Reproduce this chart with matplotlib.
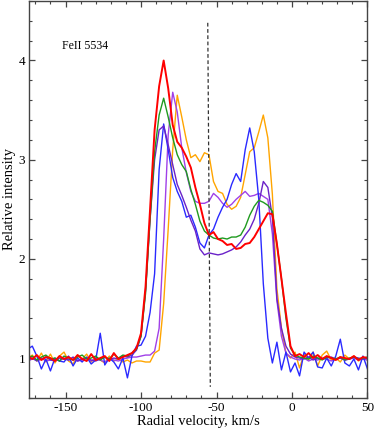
import matplotlib
matplotlib.use("Agg")
import matplotlib.pyplot as plt
from matplotlib.ticker import MultipleLocator

plt.rcParams['font.family'] = ['Liberation Serif', 'DejaVu Serif']
plt.rcParams['axes.unicode_minus'] = False

# radial velocity grid, km/s
vel = [-175, -172, -169, -166, -163, -160, -157, -154, -151, -148, -145, -142,
       -139, -136, -133, -130, -127, -124, -121, -118, -115, -112, -109, -106,
       -103, -100, -97, -94, -91, -88, -85, -82, -79, -76, -73, -70, -67, -64,
       -61, -58, -55, -52, -49, -46, -43, -40, -37, -34, -31, -28, -25, -22,
       -19, -16, -13, -10, -7, -4, -1,
       2, 5, 8, 11, 14, 17, 20, 23, 26, 29, 32, 35, 38, 41, 44, 47, 50]

red = [1.02, 0.99, 1.03, 0.98, 1.01, 1.00, 0.97, 1.02, 0.99, 1.01, 0.98, 1.03,
       0.99, 0.97, 1.04, 0.98, 1.00, 1.02, 0.97, 1.05, 0.99, 1.01, 1.03, 1.05,
       1.10, 1.25, 1.72, 2.50, 3.30, 3.74, 4.00, 3.72, 3.35, 3.18, 3.12, 3.03,
       2.92, 2.72, 2.55, 2.36, 2.24, 2.27, 2.20, 2.18, 2.14, 2.15, 2.10, 2.11,
       2.15, 2.16, 2.22, 2.30, 2.38, 2.46, 2.45, 2.15, 1.80, 1.45, 1.12,
       1.02, 1.04, 1.01, 1.05, 1.00, 1.03, 0.99, 1.02, 1.00, 0.98, 1.01, 1.00,
       0.99, 1.02, 0.98, 1.01, 1.00]

green = [1.00, 1.02, 0.98, 1.01, 1.03, 0.99, 1.00, 0.97, 1.02, 1.00, 0.98, 1.01,
         1.03, 0.99, 1.00, 1.02, 0.98, 1.01, 0.99, 1.04, 1.00, 1.03, 1.02, 1.05,
         1.09, 1.22, 1.65, 2.40, 3.08, 3.45, 3.62, 3.43, 3.22, 3.05, 2.95, 2.88,
         2.70, 2.55, 2.38, 2.28, 2.24, 2.21, 2.20, 2.21, 2.20, 2.22, 2.22, 2.24,
         2.32, 2.44, 2.53, 2.59, 2.57, 2.54, 2.48, 2.15, 1.80, 1.40, 1.10,
         1.03, 1.01, 1.00, 0.99, 1.02, 1.00, 0.98, 1.01, 1.00, 0.99, 1.01, 0.98,
         1.00, 1.01, 0.99, 1.00, 1.01]

blue = [1.09, 1.12, 1.02, 0.89, 0.99, 0.87, 1.00, 0.97, 0.96, 1.02, 0.92, 1.00,
        0.96, 1.01, 0.94, 0.98, 1.25, 0.93, 1.00, 0.96, 0.89, 1.00, 0.80, 1.02,
        1.12, 1.13, 1.22, 1.46, 1.85, 2.90, 3.36, 3.10, 2.82, 2.68, 2.58, 2.42,
        2.44, 2.32, 2.16, 2.11, 2.24, 2.30, 2.42, 2.52, 2.60, 2.75, 2.86, 2.78,
        3.10, 3.32, 3.08, 2.60, 1.75, 1.20, 0.95, 1.16, 0.88, 1.06, 0.86,
        0.95, 0.82, 1.06, 1.00, 1.06, 0.91, 0.90, 1.00, 0.92, 1.02, 1.19, 0.95,
        0.92, 0.99, 0.88, 1.02, 0.89]

purple = [0.98, 1.00, 0.97, 0.99, 1.01, 0.98, 0.97, 1.00, 0.99, 0.98, 1.01, 0.97,
          0.99, 1.00, 0.98, 0.97, 0.99, 1.01, 0.98, 1.00, 0.99, 1.02, 1.01, 1.03,
          1.08, 1.22, 1.68, 2.40, 3.00, 3.30, 3.34, 3.15, 2.95, 2.75, 2.64, 2.52,
          2.39, 2.28, 2.10, 2.04, 2.06, 2.05, 2.04, 2.05, 2.07, 2.09, 2.12, 2.17,
          2.24, 2.30, 2.40, 2.56, 2.78, 2.72, 2.42, 1.60, 1.30, 1.12, 1.04,
          1.01, 1.00, 0.99, 1.01, 0.98, 1.00, 0.99, 1.00, 1.01, 0.99, 1.00, 0.98,
          0.99, 1.01, 1.00, 0.99, 1.00]

violet = [0.97, 0.99, 0.98, 1.00, 0.97, 0.98, 0.99, 0.97, 1.00, 0.98, 0.99, 0.97,
          0.98, 1.00, 0.97, 0.99, 0.98, 0.96, 0.99, 0.98, 0.97, 0.99, 1.00, 1.01,
          1.01, 1.02, 1.03, 1.03, 1.07, 1.30, 2.20, 3.25, 3.68, 3.48, 3.12, 2.87,
          2.68, 2.58, 2.56, 2.56, 2.58, 2.66, 2.62, 2.56, 2.52, 2.55, 2.60, 2.64,
          2.68, 2.63, 2.64, 2.66, 2.63, 2.60, 2.25, 1.58, 1.22, 1.05, 1.01,
          0.99, 0.98, 1.00, 0.97, 0.99, 0.98, 1.00, 0.99, 0.97, 0.99, 1.00, 0.98,
          0.99, 1.00, 0.98, 0.99, 0.98]

orange = [1.00, 1.03, 0.97, 1.05, 0.96, 1.04, 0.95, 1.02, 1.06, 0.97, 0.94, 1.03,
          0.99, 1.04, 0.96, 1.01, 0.98, 0.95, 1.02, 0.97, 0.99, 0.96, 0.98, 0.95,
          0.97, 0.97, 0.96, 0.96, 1.05, 1.08, 1.55, 2.30, 3.10, 3.65, 3.43, 3.20,
          3.02, 3.05, 2.98, 3.07, 3.05, 2.78, 2.68, 2.66, 2.55, 2.50, 2.53, 2.62,
          2.85, 3.08, 3.12, 3.28, 3.45, 3.22, 2.65, 1.70, 1.30, 1.05, 1.00,
          1.06, 0.90, 1.04, 0.98, 1.06, 0.92, 1.03, 1.07, 0.98, 1.00, 0.96, 1.03,
          0.99, 1.02, 0.97, 1.00, 0.98]

# dashed reference line (velocity, intensity at its two ends)
ref_v = [-55.8, -54.1]
ref_i = [4.38, 0.71]

fig = plt.figure(figsize=(3.74, 4.30), dpi=100)
ax = fig.add_axes([0.0783, 0.0751, 0.9043, 0.9226])

ax.plot(vel, orange, color='#ffa500', lw=1.0)
ax.plot(vel, violet, color='#a040e8', lw=1.0)
ax.plot(vel, blue, color='#2a2aff', lw=1.0)
ax.plot(vel, purple, color='#6a22c8', lw=1.0)
ax.plot(vel, green, color='#1f9a1f', lw=1.0)
ax.plot(vel, red, color='#ff0000', lw=1.4)
ax.plot(ref_v, ref_i, color='#333333', lw=0.9, ls=(0, (3, 2)))

ax.text(-152.3, 4.15, 'FeII 5534', fontsize=8.5, ha='left', va='center')

ax.set_xlim(-174, 50)
ax.set_ylim(0.6, 4.6)
ax.set_xticks([-150, -100, -50, 0, 50])
ax.set_yticks([1, 2, 3, 4])
ax.xaxis.set_minor_locator(MultipleLocator(10))
ax.yaxis.set_minor_locator(MultipleLocator(0.2))
ax.tick_params(which='both', direction='in', top=True, right=True,
               colors='#444444', labelcolor='black', labelsize=9.5)
ax.tick_params(which='major', length=4.5, width=0.9, pad=3)
ax.tick_params(which='minor', length=2.5, width=0.8)
for s in ax.spines.values():
    s.set_color('#444444')
    s.set_linewidth(1.0)

ax.set_xlabel('Radial velocity, km/s', fontsize=10.5, labelpad=1)
ax.set_ylabel('Relative intensity', fontsize=10.5, labelpad=2)

fig.savefig('out.png', dpi=100)
